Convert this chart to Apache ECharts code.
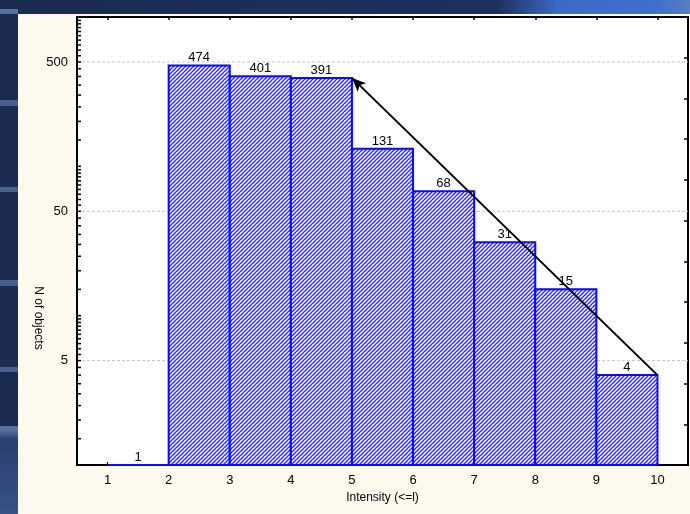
<!DOCTYPE html>
<html>
<head>
<meta charset="utf-8">
<script src="https://cdn.jsdelivr.net/npm/echarts@6/dist/echarts.min.js"></script>
<style>
  html, body { margin: 0; padding: 0; }
  body {
    width: 690px; height: 514px; overflow: hidden; position: relative;
    background-color: #1b2b52;
  }
  #stripes {
    position: absolute; left: 0; top: 0; width: 18px; height: 514px;
    background: linear-gradient(to bottom,
      #1b2b52 0px, #1b2b52 9px, #5a6f9c 9px, #5a6f9c 14px, #1b2b52 14px,
      #1b2b52 100px, #4a5f8e 100px, #4a5f8e 106px, #1b2b52 106px,
      #1b2b52 187px, #4a5f8e 187px, #4a5f8e 192px, #1b2b52 192px,
      #1b2b52 280px, #4a5f8e 280px, #4a5f8e 286px, #1b2b52 286px,
      #1b2b52 367px, #4a5f8e 367px, #4a5f8e 372px, #1b2b52 372px,
      #1b2b52 426px, #5a6f9c 426px, #5a6f9c 430px, #2a3f70 440px, #3a5285 514px);
  }
  #topband {
    position: absolute; left: 18px; top: 0; width: 672px; height: 14px;
    background: linear-gradient(to right, #1b2b52 0px, #1e3060 480px, #3c6bc6 540px, #3f70cc 640px, #5a7fc0 672px);
  }
  #chart { position: absolute; left: 0; top: 0; width: 690px; height: 514px; }
</style>
</head>
<body>
<div id="stripes"></div>
<div id="topband"></div>
<div id="chart"></div>
<script>
// Cumulative counts per intensity bin
const binStarts = [1, 2, 3, 4, 5, 6, 7, 8, 9];
const binEnds   = [2, 3, 4, 5, 6, 7, 8, 9, 10];
const counts    = [1, 474, 401, 391, 131, 68, 31, 15, 4];

// Axis ticks
const xTicks = [1, 2, 3, 4, 5, 6, 7, 8, 9, 10];
const yLabels = [5, 50, 500];
const minorSteps = [1.5, 2, 2.5, 3, 3.5, 4, 4.5, 5, 5.5, 6, 6.5, 7, 7.5, 8, 8.5, 9, 9.5, 10];
const decades = [1, 10, 100];

// Trend arrow: from the last bin's top back to the top of the 4–5 bin
const arrowFrom = [binEnds[8], counts[8]];
const arrowTo = [binEnds[3], counts[3]];

const minorTicks = [];
decades.forEach(d => minorSteps.forEach(s => minorTicks.push(d * s)));

// Diagonal hatch fill
const tile = document.createElement('canvas');
tile.width = 4; tile.height = 4;
const tctx = tile.getContext('2d');
tctx.fillStyle = '#ffffff';
tctx.fillRect(0, 0, 4, 4);
tctx.strokeStyle = '#2a2aff';
tctx.lineWidth = 1.4;
[[-4, 4, 0, 0], [0, 4, 4, 0], [0, 8, 8, 0]].forEach(([x0, y0, x1, y1]) => {
  tctx.beginPath(); tctx.moveTo(x0, y0); tctx.lineTo(x1, y1); tctx.stroke();
});
const hatch = { image: tile, repeat: 'repeat' };

const FONT = '"Liberation Sans", Arial, sans-serif';
const chart = echarts.init(document.getElementById('chart'));

const xAxisBase = {
  type: 'value', min: 0.5, max: 10.5,
  splitLine: { show: false },
  axisLine: { show: true, lineStyle: { color: '#000', width: 2 } }
};

chart.setOption({
  animation: false,
  graphic: [
    { type: 'rect', z: -10, shape: { x: 18, y: 14, width: 672, height: 500 }, style: { fill: '#fffaef' } },
    {
      type: 'text', x: 38, y: 318, rotation: -Math.PI / 2,
      style: { text: 'N of objects', font: '12px ' + FONT, fill: '#000', align: 'center', verticalAlign: 'middle' }
    }
  ],
  grid: {
    left: 77, right: 2, top: 17, bottom: 49,
    show: true, backgroundColor: '#ffffff', borderColor: '#000', borderWidth: 2
  },
  xAxis: [
    Object.assign({}, xAxisBase, {
      position: 'bottom',
      name: 'Intensity (<=l)', nameLocation: 'middle', nameGap: 25,
      nameTextStyle: { fontFamily: FONT, fontSize: 12, color: '#000' },
      axisTick: { show: true, inside: true, length: 3, customValues: xTicks, lineStyle: { color: '#000' } },
      axisLabel: { customValues: xTicks, margin: 9, fontFamily: FONT, fontSize: 13, color: '#000' }
    }),
    Object.assign({}, xAxisBase, {
      position: 'top',
      axisTick: { show: true, inside: true, length: 3, customValues: xTicks, lineStyle: { color: '#000', width: 1.5 } },
      axisLabel: { show: false }
    })
  ],
  yAxis: [
    {
      type: 'log', logBase: 10, min: 1, max: 1000, position: 'left',
      axisLine: { show: true, lineStyle: { color: '#000', width: 2 } },
      axisTick: { show: false }, axisLabel: { show: false }, splitLine: { show: false }
    },
    {
      type: 'value', min: 0, max: 11, interval: 1, position: 'right',
      axisLine: { show: true, lineStyle: { color: '#000', width: 2 } },
      axisTick: { show: true, inside: true, length: 4, lineStyle: { color: '#000', width: 1.5 } },
      axisLabel: { show: false }, splitLine: { show: false }
    }
  ],
  series: [
    {
      // dashed reference lines with their labels
      type: 'custom', z: 1, silent: true,
      xAxisIndex: 0, yAxisIndex: 0,
      data: yLabels.map(v => [v]),
      encode: { y: 0 },
      renderItem: function (params, api) {
        const v = api.value(0);
        const p = api.coord([0.5, v]);
        const cs = params.coordSys;
        return {
          type: 'group',
          children: [
            {
              type: 'line',
              shape: { x1: cs.x, y1: p[1], x2: cs.x + cs.width, y2: p[1] },
              style: { stroke: '#c4c4c4', lineWidth: 1, lineDash: [3, 2] }
            },
            {
              type: 'text',
              style: { text: String(v), x: cs.x - 9, y: p[1], align: 'right', verticalAlign: 'middle',
                       font: '13px ' + FONT, fill: '#000' }
            }
          ]
        };
      }
    },
    {
      // log minor ticks on the left axis
      type: 'custom', z: 5, silent: true,
      xAxisIndex: 0, yAxisIndex: 0,
      data: minorTicks.map(v => [v]),
      encode: { y: 0 },
      renderItem: function (params, api) {
        const p = api.coord([0.5, api.value(0)]);
        const cs = params.coordSys;
        return {
          type: 'line',
          shape: { x1: cs.x, y1: p[1], x2: cs.x + 4, y2: p[1] },
          style: { stroke: '#000', lineWidth: 1.5 }
        };
      }
    },
    {
      // histogram bars
      type: 'custom', z: 3,
      xAxisIndex: 0, yAxisIndex: 0,
      data: counts.map((c, i) => [binStarts[i], binEnds[i], c]),
      encode: { x: [0, 1], y: 2 },
      renderItem: function (params, api) {
        const x0 = api.value(0), x1 = api.value(1), v = api.value(2);
        const pTop = api.coord([x0, v]);
        const pBot = api.coord([x1, 1]);
        const mid = (pTop[0] + pBot[0]) / 2;
        return {
          type: 'group',
          children: [
            {
              type: 'rect',
              shape: { x: pTop[0], y: pTop[1], width: pBot[0] - pTop[0], height: pBot[1] - pTop[1] },
              style: { fill: hatch, stroke: '#0a0aff', lineWidth: 2 }
            },
            {
              type: 'text',
              style: { text: String(v), x: mid, y: pTop[1] - 1, align: 'center', verticalAlign: 'bottom',
                       font: '13px ' + FONT, fill: '#000' }
            }
          ]
        };
      },
      markLine: {
        silent: true,
        symbol: ['none', 'arrow'],
        symbolSize: [9, 14],
        label: { show: false },
        lineStyle: { color: '#000', width: 2, type: 'solid' },
        data: [[{ coord: arrowFrom }, { coord: arrowTo }]]
      }
    }
  ]
});
</script>
</body>
</html>
